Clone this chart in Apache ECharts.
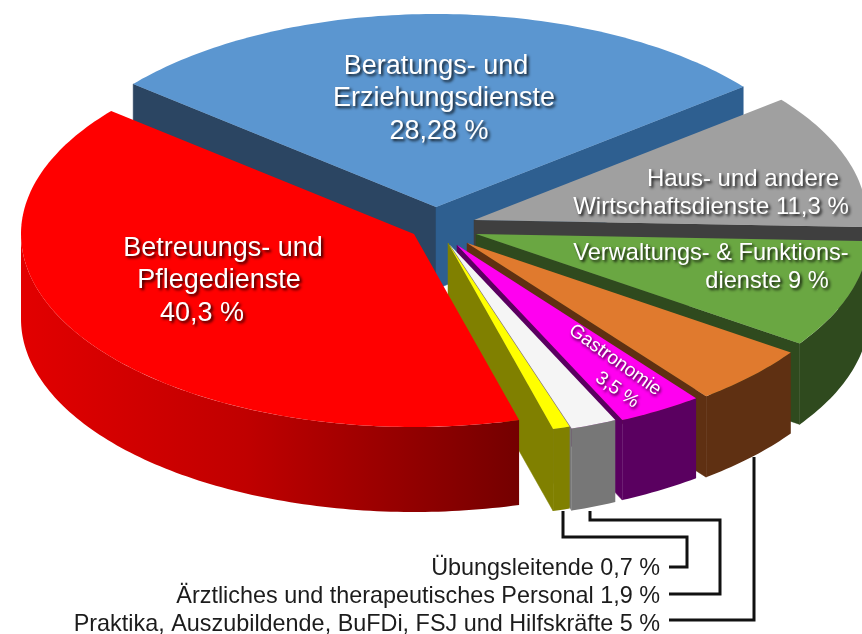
<!DOCTYPE html>
<html>
<head>
<meta charset="utf-8">
<title>Dienste</title>
<script src="https://cdn.jsdelivr.net/npm/echarts@6/dist/echarts.min.js"></script>
<style>
  html, body { margin: 0; padding: 0; background: #fff; }
  #chart { width: 862px; height: 634px; }
</style>
</head>
<body>
<div id="chart"></div>
<script>
// data, clockwise from the blue slice
const categories = ['Beratungs- und Erziehungsdienste', 'Haus- und andere Wirtschaftsdienste', 'Verwaltungs- & Funktionsdienste',
  'Praktika, Auszubildende, BuFDi, FSJ und Hilfskräfte', 'Gastronomie', 'Ärztliches und therapeutisches Personal', 'Übungsleitende', 'Betreuungs- und Pflegedienste']
const shares = [28.28, 11.3, 9, 5, 3.5, 1.9, 0.7, 40.3]

const topColors = ['#5b96d0', '#a0a0a0', '#6aa742', '#e07a2e', '#ff00f0', '#f5f5f5', '#ffff00', '#ff0000']
const wallColors = ['#2e5f90', '#3f3f3f', '#2f4a1e', '#5f3012', '#5a0060', '#777777', '#808000', '#7a0000']
const sideColors = ['#2e5f90', '#444444', '#2f4a1e', '#5f3012', '#5a0060', '#777777', '#808000', '#7a0000']

// pie projection
const radiusX = 393
const radiusY = 193
const firstAngle = -50.4
// where each slice was pulled out to, and how thick it is drawn
const apexX = [436, 474, 476, 467, 457, 450, 448, 414]
const apexY = [207, 220, 234, 243, 245, 245, 243, 234]
const depths = [82, 82, 81, 81, 80, 82, 82, 85]

const total = shares.reduce((a, b) => a + b, 0)
const startAngles = []
shares.reduce((acc, v, i) => {
  startAngles[i] = acc
  return acc + v / total * 360
}, firstAngle)

const arcPoint = (i, deg, drop) => {
  const t = deg * Math.PI / 180
  return [apexX[i] + radiusX * Math.sin(t), apexY[i] - radiusY * Math.cos(t) + drop]
}

const arcPoints = (i, from, to, drop) => {
  const pts = []
  const steps = Math.max(2, Math.ceil(to - from))
  for (let s = 0; s <= steps; s++) {
    pts.push(arcPoint(i, from + (to - from) * s / steps, drop))
  }
  return pts
}

const rayWall = (i, deg, fill) => {
  const tip = arcPoint(i, deg, 0)
  return {
    type: 'polygon',
    shape: { points: [[apexX[i], apexY[i]], tip, [tip[0], tip[1] + depths[i]], [apexX[i], apexY[i] + depths[i]]] },
    style: { fill, stroke: fill, lineWidth: 0.5 }
  }
}

const renderSlice = (params, api) => {
  const i = params.dataIndex
  const from = startAngles[i]
  const to = from + api.value(0) / total * 360
  const children = []

  if (Math.sin(from * Math.PI / 180) < 0) children.push(rayWall(i, from, '#2b4562'))
  if (Math.sin(to * Math.PI / 180) > 0) children.push(rayWall(i, to, wallColors[i]))

  const sideFrom = Math.max(from, 90)
  const sideTo = Math.min(to, 270)
  if (sideTo > sideFrom) {
    const upper = arcPoints(i, sideFrom, sideTo, 0)
    const lower = arcPoints(i, sideFrom, sideTo, depths[i]).reverse()
    // only the big red slice has the light running along its side
    const fill = i === 7
      ? new echarts.graphic.LinearGradient(0, 0, 1, 0, [
          { offset: 0, color: '#e20000' },
          { offset: 0.45, color: '#c00000' },
          { offset: 1, color: '#740000' }
        ])
      : sideColors[i]
    children.push({ type: 'polygon', shape: { points: upper.concat(lower) }, style: { fill } })
  }

  children.push({
    type: 'polygon',
    shape: { points: [[apexX[i], apexY[i]]].concat(arcPoints(i, from, to, 0)) },
    style: { fill: topColors[i] }
  })
  return { type: 'group', children }
}

const fontOf = (size) => size + 'px "Liberation Sans", Arial, sans-serif'

// y is the baseline of the line
const whiteText = (text, x, y, size) => ({
  type: 'text',
  z: 100,
  silent: true,
  style: {
    text, x,
    y: y - size * 0.24,
    font: fontOf(size),
    fill: '#ffffff',
    align: 'center',
    verticalAlign: 'middle',
    textShadowColor: 'rgba(0,0,0,0.85)',
    textShadowBlur: 3,
    textShadowOffsetX: 2,
    textShadowOffsetY: 2
  }
})

const slantedText = (text, x, y) => ({
  type: 'text',
  z: 100,
  silent: true,
  x, y,
  rotation: -0.62,
  style: {
    text,
    x: 0,
    y: 0,
    font: fontOf(19),
    fill: '#ffffff',
    align: 'center',
    verticalAlign: 'middle',
    textShadowColor: 'rgba(0,0,0,0.85)',
    textShadowBlur: 3,
    textShadowOffsetX: 1,
    textShadowOffsetY: 2
  }
})

const noteText = (text, y) => ({
  type: 'text',
  z: 100,
  silent: true,
  style: { text, x: 660, y: y - 5, font: fontOf(23.4), fill: '#1c1c1c', align: 'right', verticalAlign: 'middle' }
})

const leader = (points) => ({
  type: 'polyline',
  z: 90,
  silent: true,
  shape: { points },
  style: { stroke: '#111111', lineWidth: 3, fill: null }
})

const option = {
  animation: false,
  backgroundColor: '#ffffff',
  series: [{
    type: 'custom',
    coordinateSystem: 'none',
    silent: true,
    data: shares,
    renderItem: renderSlice
  }],
  graphic: [
    leader([[563, 511], [563, 537], [687, 537], [687, 567], [669, 567]]),
    leader([[590, 511], [590, 520], [720, 520], [720, 594], [669, 594]]),
    leader([[754, 457], [754, 620], [669, 620]]),
    whiteText('Beratungs- und', 436, 73, 27),
    whiteText('Erziehungsdienste', 444, 105, 27),
    whiteText('28,28 %', 439, 138, 27),
    whiteText('Betreuungs- und', 223, 255, 27),
    whiteText('Pflegedienste', 219, 287, 27),
    whiteText('40,3 %', 202, 320, 27),
    whiteText('Haus- und andere', 743, 185, 24),
    whiteText('Wirtschaftsdienste 11,3 %', 711, 213, 24),
    whiteText('Verwaltungs- & Funktions-', 711, 259, 23.6),
    whiteText('dienste 9 %', 767, 287, 23.6),
    slantedText('Gastronomie', 615, 360),
    slantedText('3,5 %', 617, 390),
    noteText('Übungsleitende 0,7 %', 574),
    noteText('Ärztliches und therapeutisches Personal 1,9 %', 602),
    noteText('Praktika, Auszubildende, BuFDi, FSJ und Hilfskräfte 5 %', 630)
  ]
}

const chart = echarts.init(document.getElementById('chart'), null, { renderer: 'canvas' })
chart.setOption(option)
</script>
</body>
</html>
